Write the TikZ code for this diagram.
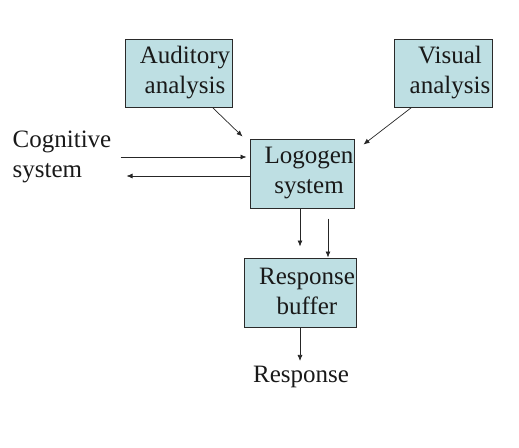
\documentclass[tikz,border=0pt]{standalone}
\usepackage{fontspec}
\setmainfont{Liberation Serif}
\usetikzlibrary{arrows.meta,calc,shadows}
\definecolor{boxfill}{HTML}{BEDFE3}
\definecolor{boxline}{HTML}{2A2A2A}
\begin{document}
\begin{tikzpicture}[x=1pt,y=-1pt,
  boxnode/.style={draw=boxline,line width=1pt,fill=boxfill,inner sep=0pt,
    drop shadow={shadow xshift=1pt,shadow yshift=-1pt,opacity=0.5,fill=black}},
  txt/.style={font=\fontsize{25}{30}\selectfont,align=center,inner sep=0pt,text=black!90},
  arr/.style={-{Latex[length=6pt,width=5pt]},line width=0.7pt,draw=black!85}]
\useasboundingbox (0,0) rectangle (519,447);
% boxes
\node[boxnode,minimum width=107pt,minimum height=68pt] (aud) at (178.5,73) {};
\node[boxnode,minimum width=98pt,minimum height=68pt] (vis) at (443,73) {};
\node[boxnode,minimum width=104pt,minimum height=69pt] (log) at (302,173.5) {};
\node[boxnode,minimum width=112pt,minimum height=69pt] (buf) at (300,292.5) {};
% texts
\node[txt] (audt) at (185,72.5) {Auditory\\analysis};
\node[txt] (vist) at (450,72.5) {Visual\\analysis};
\node[txt] (logt) at (309,173) {Logogen\\system};
\node[txt] (buft) at (307,291) {Response\\buffer};
\node[txt,align=left] (cog) at (62,156.5) {Cognitive\\system};
\node[txt] (resp) at (301,377) {Response};
% connectors
\draw[arr] ($(aud.south east)+(-20,0)$) -- ($(log.north west)+(-7,-2)$);
\draw[arr] ($(vis.south west)+(18,0)$) -- ($(log.north east)+(9,6)$);
\draw[arr] ($(cog.east)+(9,0.5)$) -- ($(log.west)+(-3,-16.5)$);
\draw[arr] ($(log.west)+(0,2.5)$) -- ($(cog.east)+(15,19.5)$);
\draw[arr] ($(log.south)+(-2,0)$) -- ($(buf.north)+(0,-11)$);
\draw[arr] ($(log.south)+(26,10)$) -- ($(buf.north)+(28,0)$);
\draw[arr] (buf.south) -- ($(resp.north)+(-1,-5)$);
\end{tikzpicture}
\end{document}
